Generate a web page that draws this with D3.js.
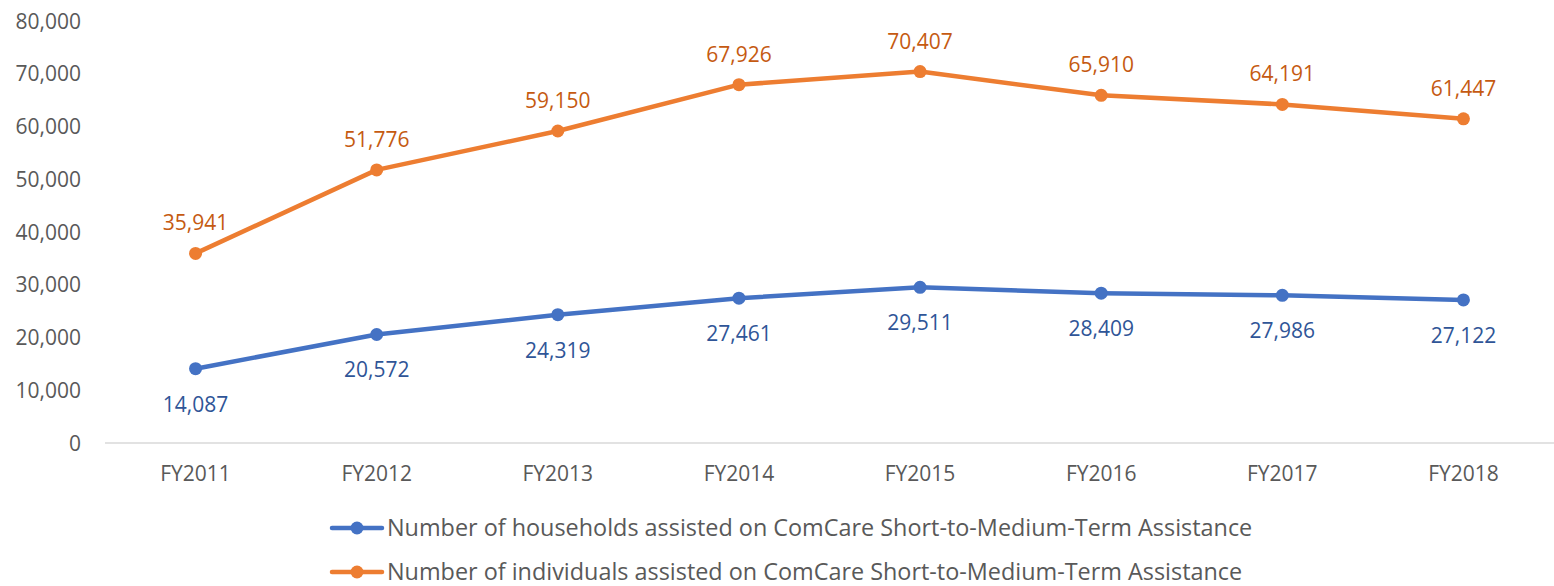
<!doctype html>
<html lang="en">
<head>
<meta charset="utf-8">
<title>ComCare Short-to-Medium-Term Assistance</title>
<script src="https://cdn.jsdelivr.net/npm/d3@7"></script>
<style>
  body { margin: 0; background: #fff; }
  svg { display: block; font-family: "Open Sans", sans-serif; }
</style>
</head>
<body>
<svg id="chart" width="1554" height="586"></svg>
<script>
// chart data
const years = ["FY2011", "FY2012", "FY2013", "FY2014", "FY2015", "FY2016", "FY2017", "FY2018"];
const households = [14087, 20572, 24319, 27461, 29511, 28409, 27986, 27122];
const individuals = [35941, 51776, 59150, 67926, 70407, 65910, 64191, 61447];
const yTicks = [0, 10000, 20000, 30000, 40000, 50000, 60000, 70000, 80000];
const seriesNames = [
  "Number of households assisted on ComCare Short-to-Medium-Term Assistance",
  "Number of individuals assisted on ComCare Short-to-Medium-Term Assistance"
];

const plotLeft = 105, plotRight = 1554, plotTop = 21, plotBottom = 443;
const fmt = d3.format(",");
const svg = d3.select("#chart");

const x = d3.scaleBand().domain(years).range([plotLeft, plotRight]);
const y = d3.scaleLinear().domain([0, 80000]).range([plotBottom, plotTop]);

const series = [
  {name: seriesNames[0], values: households, color: "#4472C4", labelColor: "#2F5597", dy: 43},
  {name: seriesNames[1], values: individuals, color: "#ED7D31", labelColor: "#C55A11", dy: -23}
];

// y axis labels (no line, no ticks)
svg.append("g").selectAll("text").data(yTicks).join("text")
  .attr("x", 81).attr("y", d => y(d)).attr("dy", "0.36em")
  .attr("text-anchor", "end").attr("fill", "#595959").attr("font-size", 21)
  .text(d => fmt(d));

// x axis line
svg.append("line").attr("x1", plotLeft).attr("x2", plotRight).attr("y1", plotBottom).attr("y2", plotBottom)
  .attr("stroke", "#D9D9D9").attr("stroke-width", 1.5);

svg.append("g").selectAll("text").data(years).join("text")
  .attr("x", d => x(d) + x.bandwidth() / 2).attr("y", plotBottom + 38)
  .attr("text-anchor", "middle").attr("fill", "#595959").attr("font-size", 21)
  .text(d => d);

const line = d3.line().x((d, i) => x(years[i]) + x.bandwidth() / 2).y(d => y(d));

series.forEach(s => {
  const g = svg.append("g");
  g.append("path").datum(s.values).attr("d", line)
    .attr("fill", "none").attr("stroke", s.color).attr("stroke-width", 4.5)
    .attr("stroke-linejoin", "round").attr("stroke-linecap", "round");
  g.selectAll("circle").data(s.values).join("circle")
    .attr("cx", (d, i) => x(years[i]) + x.bandwidth() / 2).attr("cy", d => y(d))
    .attr("r", 6.5).attr("fill", s.color);
  g.selectAll("text").data(s.values).join("text")
    .attr("x", (d, i) => x(years[i]) + x.bandwidth() / 2).attr("y", d => y(d) + s.dy)
    .attr("text-anchor", "middle").attr("fill", s.labelColor).attr("font-size", 21)
    .text(d => fmt(d));
});

// legend
const legend = svg.append("g");
series.forEach((s, i) => {
  const ly = 528 + i * 44;
  const row = legend.append("g");
  row.append("line").attr("x1", 332).attr("x2", 382).attr("y1", ly).attr("y2", ly)
    .attr("stroke", s.color).attr("stroke-width", 4.5).attr("stroke-linecap", "round");
  row.append("circle").attr("cx", 357).attr("cy", ly).attr("r", 6.5).attr("fill", s.color);
  row.append("text").attr("x", 387).attr("y", ly + 8)
    .attr("fill", "#595959").attr("font-size", 23.4)
    .text(s.name);
});
</script>
</body>
</html>
